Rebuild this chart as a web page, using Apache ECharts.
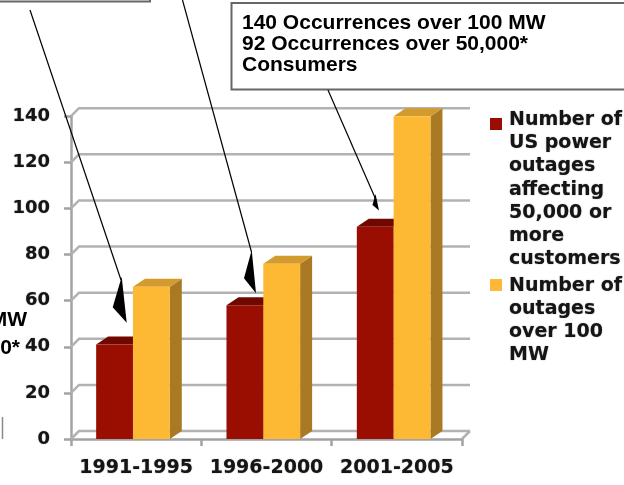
<!DOCTYPE html>
<html>
<head>
<meta charset="utf-8">
<script src="https://cdn.jsdelivr.net/npm/echarts@6/dist/echarts.min.js"></script>
<style>
  html, body { margin: 0; padding: 0; background: #ffffff; }
  #chart { width: 624px; height: 485px; }
</style>
</head>
<body>
<div id="chart"></div>
<script>
// Outage counts per five-year period
const categories = ['1991-1995', '1996-2000', '2001-2005'];
const outages50kCustomers = [41, 58, 92];
const outagesOver100MW = [66, 76, 140];
const yTicks = [0, 20, 40, 60, 80, 100, 120, 140];
const seriesNames = [
  'Number of US power outages affecting 50,000 or more customers',
  'Number of outages over 100 MW'
];
const calloutLines = [
  '140 Occurrences over 100 MW',
  '92 Occurrences over 50,000*',
  'Consumers'
];

const FONT = '"Liberation Sans", Arial, sans-serif';
const WIDE_FONT = '"DejaVu Sans", Verdana, sans-serif';
const GRID_GRAY = '#b2b2b2';
const AXIS_GRAY = '#a3a3a3';
// depth offsets used to fake the 3-D look
const WALL_DX = 8, WALL_DY = -8;
const BAR_DX = 12, BAR_DY = -8;

const barColors = [
  { front: '#9a0e02', top: '#6f0900', side: '#5c0700' },
  { front: '#fdb934', top: '#d39b2d', side: '#a97a23' }
];

// soft, heavy look of the chart's own labels
const softText = { textShadowColor: 'rgba(0,0,0,0.45)', textShadowBlur: 1.2 };

// word-wrap a legend name into lines no wider than maxWidth
function wrapWords(text, font, maxWidth) {
  const ctx = document.createElement('canvas').getContext('2d');
  ctx.font = font;
  const words = text.split(' ');
  const lines = [];
  let line = '';
  words.forEach(function (w) {
    const trial = line ? line + ' ' + w : w;
    if (line && ctx.measureText(trial).width > maxWidth) {
      lines.push(line);
      line = w;
    } else {
      line = trial;
    }
  });
  if (line) lines.push(line);
  return lines.join('\n');
}

// back-wall gridlines with a short diagonal on the side wall
function renderWall(params, api) {
  const cs = params.coordSys;
  const y = api.coord([0, api.value(1)])[1];
  const x0 = cs.x, x1 = cs.x + cs.width;
  const children = [{
    type: 'polyline',
    shape: { points: [[x0, y], [x0 + WALL_DX, y + WALL_DY], [x1 + WALL_DX, y + WALL_DY]] },
    style: { stroke: GRID_GRAY, lineWidth: 2.5, fill: null }
  }];
  if (api.value(1) === 0) {
    children.push({
      type: 'line',
      shape: { x1: x1, y1: y, x2: x1 + WALL_DX, y2: y + WALL_DY },
      style: { stroke: GRID_GRAY, lineWidth: 2.5 }
    });
  }
  return { type: 'group', children: children };
}

// prism-shaped bar: front face, top face and right side face
function makeBarRenderer(slot, c) {
  return function (params, api) {
    const idx = api.value(0);
    const top = api.coord([idx, api.value(1)]);
    const base = api.coord([idx, 0]);
    const band = api.size([1, 0])[0];
    const w = band * 0.2825;
    const x0 = top[0] - band * 0.307 + slot * w;
    const yT = top[1], yB = base[1];
    return {
      type: 'group',
      children: [
        {
          type: 'polygon',
          shape: { points: [[x0 + w, yT], [x0 + w + BAR_DX, yT + BAR_DY], [x0 + w + BAR_DX, yB + BAR_DY], [x0 + w, yB]] },
          style: { fill: c.side }
        },
        {
          type: 'polygon',
          shape: { points: [[x0, yT], [x0 + w, yT], [x0 + w + BAR_DX, yT + BAR_DY], [x0 + BAR_DX, yT + BAR_DY]] },
          style: { fill: c.top }
        },
        {
          type: 'rect',
          shape: { x: x0, y: yT, width: w, height: yB - yT },
          style: { fill: c.front }
        }
      ]
    };
  };
}

const chart = echarts.init(document.getElementById('chart'), null, { renderer: 'canvas' });

const LEGEND_FONT_SIZE = 19;
const legendCssFont = 'bold ' + LEGEND_FONT_SIZE + 'px "DejaVu Sans"';
const legendText = Object.assign({
  fontFamily: WIDE_FONT, fontWeight: 'bold', fontSize: LEGEND_FONT_SIZE, fill: '#151515',
  lineHeight: 23.2
}, softText);

chart.setOption({
  animation: false,
  backgroundColor: '#ffffff',
  grid: { left: 71, right: 162, top: 116.2, bottom: 46 },
  xAxis: {
    type: 'category',
    data: categories,
    axisLine: { show: true, lineStyle: { color: AXIS_GRAY, width: 2.5 } },
    axisTick: { show: true, length: 7, interval: 0, lineStyle: { color: AXIS_GRAY, width: 2.5 } },
    axisLabel: Object.assign({
      interval: 0, color: '#151515', fontFamily: WIDE_FONT, fontWeight: 'bold', fontSize: 19, margin: 20
    }, softText),
    splitLine: { show: false }
  },
  yAxis: {
    type: 'value',
    min: 0, max: 140, interval: 20,
    axisLine: { show: true, lineStyle: { color: AXIS_GRAY, width: 2.5 } },
    axisTick: { show: true, length: 7, lineStyle: { color: AXIS_GRAY, width: 2.5 } },
    axisLabel: Object.assign({
      color: '#151515', fontFamily: WIDE_FONT, fontWeight: 'bold', fontSize: 18, margin: 21,
      formatter: function (v) { return yTicks.indexOf(v) >= 0 ? String(v) : ''; }
    }, softText),
    splitLine: { show: false }
  },
  series: [
    {
      type: 'custom', name: 'wall', silent: true, z: 1,
      renderItem: renderWall,
      encode: { x: 0, y: 1 },
      data: yTicks.map(v => [0, v])
    },
    {
      type: 'custom', name: seriesNames[0], z: 3,
      renderItem: makeBarRenderer(0, barColors[0]),
      encode: { x: 0, y: 1 },
      data: outages50kCustomers.map((v, i) => [i, v])
    },
    {
      type: 'custom', name: seriesNames[1], z: 4,
      renderItem: makeBarRenderer(1, barColors[1]),
      encode: { x: 0, y: 1 },
      data: outagesOver100MW.map((v, i) => [i, v])
    }
  ],
  graphic: [
    // legend
    { type: 'rect', left: 490, top: 118, shape: { width: 12, height: 12 }, style: { fill: barColors[0].front } },
    { type: 'text', x: 509, y: 108.5,
      style: Object.assign({ text: wrapWords(seriesNames[0], legendCssFont, 118) }, legendText) },
    { type: 'rect', left: 490, top: 279, shape: { width: 12, height: 12 }, style: { fill: barColors[1].front } },
    { type: 'text', x: 509, y: 274,
      style: Object.assign({ text: wrapWords(seriesNames[1], legendCssFont, 118) }, legendText) },

    // callout box, top right
    { type: 'rect', shape: { x: 231.5, y: 3, width: 430, height: 86.5 }, style: { fill: '#ffffff', stroke: '#666666', lineWidth: 2 }, z: 10 },
    { type: 'text', x: 242, y: 12.5, z: 11,
      style: { text: calloutLines.join('\n'), fontFamily: FONT, fontWeight: 'bold', fontSize: 21, lineHeight: 21, fill: '#000000' } },

    // partly visible callout box, top left
    { type: 'polyline', shape: { points: [[0, 1.5], [150, 1.5], [150, 0]] }, style: { stroke: '#666666', lineWidth: 2, fill: null }, z: 10 },

    // partly visible callout text at the left edge
    { type: 'text', x: 27, y: 320, z: 11,
      style: { text: 'over 100 MW', align: 'right', verticalAlign: 'middle', fontFamily: FONT, fontWeight: 'bold', fontSize: 21, fill: '#000000' } },
    { type: 'text', x: 20, y: 348, z: 11,
      style: { text: 'over 50,000*', align: 'right', verticalAlign: 'middle', fontFamily: FONT, fontWeight: 'bold', fontSize: 21, fill: '#000000' } },
    { type: 'line', shape: { x1: 2.5, y1: 417, x2: 2.5, y2: 439 }, style: { stroke: '#8a8a8a', lineWidth: 1.5 }, z: 10 },

    // pointer lines with arrowheads
    { type: 'line', shape: { x1: 30, y1: 10, x2: 121, y2: 280 }, style: { stroke: '#000000', lineWidth: 1.2 }, z: 12 },
    { type: 'polygon', shape: { points: [[121.7, 276.7], [112.7, 307.3], [126.7, 322.7]] }, style: { fill: '#000000' }, z: 12 },
    { type: 'line', shape: { x1: 182.5, y1: 0, x2: 251.5, y2: 252 }, style: { stroke: '#000000', lineWidth: 1.2 }, z: 12 },
    { type: 'polygon', shape: { points: [[251.7, 250], [244, 278.3], [256, 293.3]] }, style: { fill: '#000000' }, z: 12 },
    { type: 'line', shape: { x1: 328, y1: 90, x2: 376, y2: 200 }, style: { stroke: '#000000', lineWidth: 1.2 }, z: 12 },
    { type: 'polygon', shape: { points: [[375.5, 194], [372.5, 205], [379, 210.5]] }, style: { fill: '#000000' }, z: 12 }
  ]
});
</script>
</body>
</html>
